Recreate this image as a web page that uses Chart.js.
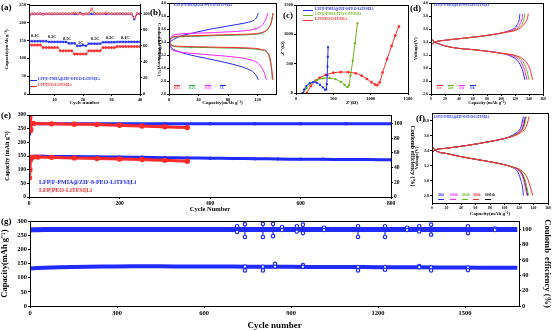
<!DOCTYPE html>
<html>
<head>
<meta charset="utf-8">
<script src="https://cdn.jsdelivr.net/npm/chart.js@4.4.0/dist/chart.umd.min.js"></script>
<style>
  body { margin: 0; width: 554px; height: 331px; background: #fff; position: relative; overflow: hidden; font-family: 'Liberation Serif', serif; }
  .c { position: absolute; }
  .t { position: absolute; white-space: nowrap; font-weight: bold; line-height: 1; }
  .ln { position: absolute; height: 1px; }
</style>
</head>
<body>
<div class="c" style="left:4px;top:0px;width:158px;height:106px"><canvas id="chA"></canvas></div>
<div class="c" style="left:157px;top:0px;width:123px;height:106px"><canvas id="chB"></canvas></div>
<div class="c" style="left:280px;top:0px;width:134px;height:106px"><canvas id="chC"></canvas></div>
<div class="c" style="left:413px;top:0px;width:141px;height:106px"><canvas id="chD"></canvas></div>
<div class="c" style="left:4px;top:108px;width:412px;height:105px"><canvas id="chE"></canvas></div>
<div class="c" style="left:414px;top:109px;width:140px;height:108px"><canvas id="chF"></canvas></div>
<div class="c" style="left:0px;top:216px;width:552px;height:115px"><canvas id="chG"></canvas></div>
<div id="labels"></div>
<script>
// ---- data ----

// (a) rate performance
const aCycles = [1,2,3,4,5,6,7,8,9,10,11,12,13,14,15,16,17,18,19,20,21,22,23,24,25,26,27,28,29,30,31,32,33,34,35,36,37,38,39,40];
const aBlueCap = [148,148,148,148,148,148,148, 146,146,146,146,146,146,146, 142,142,142, 135,135,137,135, 141,141,141,141,141, 145,145,145,145,145, 146,146,146,146,146,146,146,146,146];
const aRedCap = [137,137,137,137,137, 130,130,130,130,130,130, 121,121,121,121,121, 112,112,112,112,112, 121,121,121,121,121, 130,130,130,130,130, 133,133,133,133,133,133,133,133,133];
const aBlueCE = [97,99.5,99.5,99.5,99.5,99.5,99.5,99.5,99.5,99.5,99.5,99.5,99.5,99.5,99.5,99.5,99.5,99.5,101,99.5,99.5,99.5,99.5,99.5,99.5,99.5,99.5,99.5,99.5,99.5,99.5,99.5,99.5,99.5,99.5,99.5,99.5,93,99.5,99.5];
const aRedCE = [99,100,100,100,100, 99,100,100,100,100,100, 100,100,100,100,100, 101,100,100,99,100, 100,106,100,100,100, 100,101,100,100,100, 100,100,100,100,100,100,95,100,100];
const aRates = ['0.1C','0.2C','0.5C','1C','0.5C','0.2C','0.1C'];

// (b) charge / discharge at different rates  [capacity, voltage]
const bRates = ['0.1C','0.2C','0.5C','1C'];
const bRedChg = [[0,3.38],[3,3.46],[8,3.49],[30,3.5],[60,3.51],[90,3.52],[115,3.53],[128,3.56],[135,3.62],[139,3.72],[141,3.85]];
const bGreenChg = [[0,3.38],[3,3.46],[8,3.48],[30,3.49],[60,3.5],[90,3.51],[115,3.52],[128,3.55],[135,3.62],[139,3.73],[141,3.85]];
const bMagChg = [[0,3.38],[3,3.48],[10,3.52],[40,3.54],[80,3.56],[105,3.58],[118,3.61],[126,3.66],[131,3.75],[134,3.85]];
const bBlueChg = [[0,3.38],[3,3.42],[15,3.49],[35,3.55],[55,3.6],[75,3.64],[95,3.68],[108,3.71],[115,3.74],[119,3.79],[121,3.85]];
const bRedDis = [[0,3.42],[3,3.36],[10,3.34],[40,3.33],[80,3.32],[110,3.31],[125,3.29],[133,3.25],[137,3.15],[139,3.0],[141,2.82]];
const bGreenDis = [[0,3.42],[3,3.35],[10,3.33],[40,3.32],[80,3.31],[110,3.3],[125,3.28],[133,3.24],[137,3.12],[139,2.98],[140,2.82]];
const bMagDis = [[0,3.40],[3,3.3],[10,3.26],[30,3.23],[60,3.2],[90,3.17],[110,3.13],[120,3.08],[126,3.0],[130,2.9],[132,2.82]];
const bBlueDis = [[0,3.40],[3,3.32],[10,3.27],[30,3.2],[51,3.15],[75,3.09],[96,3.03],[108,2.98],[115,2.93],[119,2.87],[121,2.82]];

// (c) Nyquist plots [Z', -Z'']
const cBlue = [[90,0],[110,60],[140,120],[180,165],[230,185],[280,175],[320,140],[360,95],[390,55],[405,60],[412,150],[418,300],[422,450],[426,620],[430,780]];
const cGreen = [[100,0],[140,80],[200,160],[280,220],[360,250],[450,255],[530,235],[600,190],[650,140],[690,100],[710,130],[730,300],[760,550],[790,850],[823,1188]];
const cRed = [[145,0],[200,120],[260,210],[320,260],[400,310],[500,345],[600,357],[700,355],[800,335],[880,295],[950,240],[1010,185],[1060,145],[1090,135],[1120,180],[1160,350],[1220,580],[1280,800],[1330,980],[1377,1133]];

// (d) charge / discharge, 4 cycles
const dLabels = ['1st','2nd','3rd','5th'];
const dRedChg = [[0,3.36],[5,3.4],[20,3.43],[45,3.46],[70,3.49],[95,3.53],[110,3.56],[120,3.58],[130,3.64],[135,3.71],[138,3.78],[139,3.84]];
const dGreenChg = [[0,3.36],[5,3.4],[20,3.43],[45,3.46],[70,3.49],[95,3.53],[110,3.56],[118,3.58],[126,3.63],[131,3.7],[133,3.77],[134,3.84]];
const dMagChg = [[0,3.36],[5,3.4],[20,3.43],[45,3.46],[70,3.49],[95,3.53],[110,3.57],[115,3.58],[122,3.62],[127,3.68],[130,3.76],[131,3.84]];
const dBlueChg = [[0,3.36],[5,3.4],[20,3.43],[45,3.46],[70,3.49],[95,3.53],[110,3.57],[118,3.61],[123,3.67],[126,3.75],[127,3.84]];
const dRedDis = [[0,3.47],[3,3.42],[10,3.38],[30,3.32],[65,3.28],[100,3.23],[122,3.19],[134,3.12],[140,3.02],[143,2.92],[145,2.82]];
const dGreenDis = [[0,3.47],[3,3.42],[10,3.38],[30,3.32],[65,3.28],[100,3.23],[120,3.19],[130,3.12],[135,3.02],[138,2.92],[140,2.82]];
const dMagDis = [[0,3.47],[3,3.42],[10,3.38],[30,3.32],[65,3.28],[100,3.23],[118,3.18],[127,3.12],[132,3.02],[135,2.92],[137,2.82]];
const dBlueDis = [[0,3.47],[3,3.42],[10,3.38],[30,3.32],[65,3.28],[100,3.23],[115,3.18],[123,3.12],[129,3.02],[132,2.92],[134,2.82]];

// (e) long cycling, two cells [cycle, value]
const eBlueCap = [[1,133],[2,138],[3,143],[5,146],[8,148],[15,149],[30,149],[60,148],[100,148],[150,147],[200,146],[250,145],[300,144],[350,143],[400,142],[450,141],[500,140],[550,139],[600,138],[650,138],[700,137],[750,137],[800,136]];
const eBlueCE = [[1,85],[2,96],[3,99],[5,99.5],[50,99.6],[100,99.5],[200,99.5],[300,99.5],[400,99.5],[500,99.5],[600,99.5],[700,99.5],[800,99.5]];
const eRedCap = [[1,70],[2,100],[3,135],[4,142],[5,145],[10,146],[20,146],[50,145],[100,143],[150,141],[200,139],[250,137],[300,134],[350,131]];
const eRedCE = [[1,106],[2,109],[3,90],[4,92],[5,100],[10,100],[50,99.5],[100,99],[150,98.5],[200,97.5],[250,96.5],[300,95.5],[350,94.5]];

// (f) charge / discharge at long cycles
const fLabels = ['50th','100th','200th','300th','1000 th'];
const fBlueChg = [[0,3.38],[5,3.41],[20,3.43],[50,3.47],[80,3.52],[100,3.56],[110,3.6],[118,3.65],[123,3.72],[126,3.85]];
const fMagChg = [[0,3.38],[5,3.41],[20,3.43],[50,3.47],[80,3.52],[100,3.56],[110,3.59],[120,3.65],[125,3.72],[128,3.85]];
const fGreenChg = [[0,3.38],[5,3.41],[20,3.43],[50,3.47],[80,3.52],[100,3.56],[110,3.59],[122,3.65],[127,3.72],[130,3.85]];
const fRedChg = [[0,3.38],[5,3.41],[20,3.43],[50,3.47],[80,3.52],[100,3.56],[112,3.59],[124,3.65],[130,3.72],[134,3.85]];
const fBlackChg = [[0,3.38],[5,3.41],[20,3.43],[50,3.47],[80,3.52],[100,3.56],[110,3.59],[121,3.65],[126,3.72],[129,3.85]];
const fBlueDis = [[0,3.46],[5,3.4],[20,3.36],[50,3.3],[80,3.25],[100,3.21],[110,3.18],[118,3.12],[122,3.02],[125,2.9],[126,2.8]];
const fMagDis = [[0,3.46],[5,3.4],[20,3.36],[50,3.3],[80,3.25],[100,3.21],[110,3.18],[121,3.12],[126,3.02],[129,2.9],[131,2.8]];
const fGreenDis = [[0,3.46],[5,3.4],[20,3.36],[50,3.3],[80,3.25],[100,3.21],[110,3.18],[123,3.12],[128,3.02],[131,2.9],[133,2.8]];
const fRedDis = [[0,3.46],[5,3.4],[20,3.36],[50,3.3],[80,3.25],[100,3.21],[112,3.18],[125,3.12],[132,3.02],[136,2.9],[139,2.8]];
const fBlackDis = [[0,3.46],[5,3.4],[20,3.36],[50,3.3],[80,3.25],[100,3.21],[110,3.18],[122,3.12],[127,3.02],[130,2.9],[132,2.8]];

// (g) 1600+ cycles: main bands plus spikes [cycle, top, bottom]
const gCap = [[1,133],[50,135],[100,137],[200,139],[300,140],[400,140.5],[500,140],[600,140],[700,139.5],[800,139],[900,138.5],[1000,138],[1100,138],[1200,137.5],[1300,137],[1400,136.5],[1500,136],[1600,135.5],[1680,135]];
const gCapSpikes = [[741,139.5,126],[803,139,126],[845,149,139],[941,145,138.5],[1131,138,126],[1224,137.5,128],[1342,141,137],[1383,136.5,126],[1510,136,127]];
const gCE = [[1,99],[50,99.8],[200,99.8],[400,99.8],[600,99.8],[800,99.8],[1000,99.8],[1200,99.8],[1400,99.8],[1600,99.8],[1680,99.8]];
const gCESpikes = [[714,104,96.5],[741,106.5,90],[803,107,90],[838,107,91],[869,103,99],[920,104,97],[941,106,95],[1014,102,99],[1131,104,90],[1224,104,90],[1300,102,99],[1342,104,97],[1383,106,93],[1510,104,95],[1603,101,99]];

// ---- colours ----
const BLUE = '#1f2bff', RED = '#ff2a2a', GREEN = '#2ea84a', LGREEN = '#6cb21c', MAG = '#ff22ff', BLACK = '#000';

Chart.defaults.font.family = "'Liberation Serif', serif";
Chart.defaults.font.weight = 'bold';
Chart.defaults.color = '#000';
Chart.defaults.animation = false;
Chart.defaults.responsive = true;
Chart.defaults.maintainAspectRatio = false;
Chart.defaults.devicePixelRatio = 1;
Chart.defaults.plugins.legend.display = false;
Chart.defaults.plugins.tooltip.enabled = false;

const frame = {
  id: 'frame',
  afterDraw(c) {
    const a = c.chartArea, x = c.ctx;
    x.save(); x.strokeStyle = '#000'; x.lineWidth = 1;
    x.strokeRect(Math.round(a.left) + 0.5, Math.round(a.top) + 0.5, Math.round(a.width), Math.round(a.height));
    x.restore();
  }
};

const xy = pairs => pairs.map(p => ({x: p[0], y: p[1]}));
const zip = (xs, ys) => xs.map((v, i) => ({x: v, y: ys[i]}));
// each spike becomes a short vertical segment, separated by gaps
const spikes = list => list.flatMap(s => [{x: s[0], y: s[1]}, {x: s[0], y: s[2]}, {x: s[0], y: null}]);

function axis(o) {
  return {
    type: 'linear', position: o.pos, min: o.min, max: o.max,
    afterBuildTicks: s => { s.ticks = o.ticks.map(v => ({value: v})); },
    afterFit: s => { if (o.pos === 'bottom') s.height = o.size; else s.width = o.size; },
    grid: {drawOnChartArea: false, tickLength: 2, color: '#000'},
    border: {color: '#000'},
    ticks: {font: {size: o.fs || 5}, padding: 1, maxRotation: 0, autoSkip: false,
            callback: o.fmt || (v => v)},
    title: {display: !!o.title, text: o.title, font: {size: o.ts || 5.5}, padding: 0}
  };
}

function curve(pairs, color, w) {
  return {data: xy(pairs), borderColor: color, backgroundColor: color, borderWidth: w || 1,
          pointRadius: 0, showLine: true, cubicInterpolationMode: 'monotone'};
}

function make(id, datasets, scales, pad) {
  return new Chart(document.getElementById(id), {
    type: 'scatter',
    data: {datasets},
    options: {layout: {padding: pad}, scales},
    plugins: [frame]
  });
}

// (a)
make('chA', [
  {data: zip(aCycles, aRedCE), yAxisID: 'y2', borderColor: RED, backgroundColor: '#fff', showLine: true, borderWidth: 0.8, pointRadius: 1, pointStyle: 'circle'},
  {data: zip(aCycles, aBlueCE), yAxisID: 'y2', borderColor: BLUE, backgroundColor: BLUE, showLine: true, borderWidth: 0.8, pointRadius: 1.2, pointStyle: 'star'},
  {data: zip(aCycles, aRedCap), borderColor: RED, backgroundColor: RED, showLine: true, borderWidth: 0.8, pointRadius: 1.1, pointStyle: 'circle'},
  {data: zip(aCycles, aBlueCap), borderColor: BLUE, backgroundColor: BLUE, showLine: true, borderWidth: 0.8, pointRadius: 1.4, pointStyle: 'star'}
], {
  x: axis({pos: 'bottom', min: 1, max: 40, ticks: [10, 20, 30, 40], size: 12, title: 'Cycle number', fs: 4.5, ts: 5}),
  y: axis({pos: 'left', min: 0, max: 250, ticks: [0, 50, 100, 150, 200, 250], size: 25, title: 'Capacity(mAh g⁻¹)', fs: 4.5, ts: 5}),
  y2: axis({pos: 'right', min: 0, max: 111, ticks: [0, 20, 40, 60, 80, 100], size: 22, title: 'Coulombic efficiency(%)', fs: 4.5, ts: 5})
}, {top: 3, right: 0, left: 0, bottom: 0});

// (b)
make('chB', [
  curve(bRedChg, RED), curve(bGreenChg, GREEN), curve(bMagChg, MAG), curve(bBlueChg, BLUE),
  curve(bRedDis, RED), curve(bGreenDis, GREEN), curve(bMagDis, MAG), curve(bBlueDis, BLUE)
], {
  x: axis({pos: 'bottom', min: 0, max: 145, ticks: [0, 40, 80, 120], size: 12, title: 'Capacity(mAh g⁻¹)', fs: 4.5, ts: 5}),
  y: axis({pos: 'left', min: 2.6, max: 4.0, ticks: [2.6, 2.8, 3.0, 3.2, 3.4, 3.6, 3.8, 4.0], size: 12, title: 'Voltage(V)', fs: 4, ts: 5, fmt: v => v.toFixed(1)})
}, {top: 3, right: 4, left: 0, bottom: 0});

// (c)
make('chC', [
  {data: xy(cBlue), borderColor: BLUE, backgroundColor: BLUE, showLine: true, borderWidth: 1, pointRadius: 1, pointStyle: 'star', tension: 0.3},
  {data: xy(cGreen), borderColor: LGREEN, backgroundColor: LGREEN, showLine: true, borderWidth: 1, pointRadius: 1, pointStyle: 'triangle', tension: 0.3},
  {data: xy(cRed), borderColor: RED, backgroundColor: RED, showLine: true, borderWidth: 1, pointRadius: 1, pointStyle: 'circle', tension: 0.3}
], {
  x: axis({pos: 'bottom', min: 0, max: 1500, ticks: [0, 500, 1000, 1500], size: 13, title: "Z'(Ω)", fs: 4.5, ts: 5}),
  y: axis({pos: 'left', min: 0, max: 1500, ticks: [0, 500, 1000, 1500], size: 16, title: "-Z''(Ω)", fs: 4.5, ts: 5})
}, {top: 3, right: 6, left: 0, bottom: 0});

// (d)
make('chD', [
  curve(dRedChg, RED), curve(dGreenChg, LGREEN), curve(dMagChg, MAG), curve(dBlueChg, BLUE),
  curve(dRedDis, RED), curve(dGreenDis, LGREEN), curve(dMagDis, MAG), curve(dBlueDis, BLUE)
], {
  x: axis({pos: 'bottom', min: 0, max: 160, ticks: [0, 20, 40, 60, 80, 100, 120, 140, 160], size: 12, title: 'Capacity (mAh g⁻¹)', fs: 3.8, ts: 4.5}),
  y: axis({pos: 'left', min: 2.6, max: 4.0, ticks: [2.6, 2.8, 3.0, 3.2, 3.4, 3.6, 3.8, 4.0], size: 18, title: 'Voltage(V)', fs: 4, ts: 5, fmt: v => v.toFixed(1)})
}, {top: 3, right: 11, left: 0, bottom: 0});

// (e)
make('chE', [
  {data: xy(eRedCE), yAxisID: 'y2', borderColor: RED, backgroundColor: RED, showLine: true, borderWidth: 3, pointRadius: 1.2, tension: 0.2},
  {data: xy(eRedCap), borderColor: RED, backgroundColor: RED, showLine: true, borderWidth: 3, pointRadius: 1.2, tension: 0.2},
  {data: xy(eBlueCE), yAxisID: 'y2', borderColor: BLUE, backgroundColor: BLUE, showLine: true, borderWidth: 3, pointRadius: 1, pointStyle: 'star', tension: 0.2},
  {data: xy(eBlueCap), borderColor: BLUE, backgroundColor: BLUE, showLine: true, borderWidth: 3, pointRadius: 1, pointStyle: 'star', tension: 0.2}
], {
  x: axis({pos: 'bottom', min: 0, max: 800, ticks: [0, 200, 400, 600, 800], size: 16, title: 'Cycle Number', fs: 5.5, ts: 6.5}),
  y: axis({pos: 'left', min: 0, max: 300, ticks: [0, 50, 100, 150, 200, 250, 300], size: 25, title: 'Capacity (mAh g⁻¹)', fs: 5.5, ts: 6}),
  y2: axis({pos: 'right', min: 0, max: 111.5, ticks: [0, 20, 40, 60, 80, 100], size: 25, title: 'Coulomb efficiency (%)', fs: 5.5, ts: 6})
}, {top: 4, right: 0, left: 0, bottom: 0});

// (f)
make('chF', [
  curve(fRedChg, RED), curve(fGreenChg, LGREEN), curve(fMagChg, MAG), curve(fBlackChg, BLACK), curve(fBlueChg, BLUE),
  curve(fRedDis, RED), curve(fGreenDis, LGREEN), curve(fMagDis, MAG), curve(fBlackDis, BLACK), curve(fBlueDis, BLUE)
], {
  x: axis({pos: 'bottom', min: 0, max: 160, ticks: [0, 20, 40, 60, 80, 100, 120, 140, 160], size: 14, title: 'Capacity(mAh g⁻¹)', fs: 3.8, ts: 5}),
  y: axis({pos: 'left', min: 2.7, max: 3.9, ticks: [2.8, 3.0, 3.2, 3.4, 3.6, 3.8], size: 18, title: 'Voltage(V)', fs: 4, ts: 5, fmt: v => v.toFixed(1)})
}, {top: 4, right: 6, left: 0, bottom: 0});

// (g)
make('chG', [
  {data: spikes(gCESpikes), yAxisID: 'y2', borderColor: BLUE, backgroundColor: '#fff', showLine: true, spanGaps: false, borderWidth: 1.2, pointRadius: 1.7, pointBorderWidth: 1.2},
  {data: spikes(gCapSpikes), borderColor: BLUE, backgroundColor: '#fff', showLine: true, spanGaps: false, borderWidth: 1.2, pointRadius: 1.7, pointBorderWidth: 1.2},
  {data: xy(gCE), yAxisID: 'y2', borderColor: BLUE, backgroundColor: BLUE, showLine: true, borderWidth: 5, pointRadius: 0, tension: 0.2},
  {data: xy(gCap), borderColor: BLUE, backgroundColor: BLUE, showLine: true, borderWidth: 4, pointRadius: 0, tension: 0.2}
], {
  x: axis({pos: 'bottom', min: 0, max: 1686, ticks: [0, 300, 600, 900, 1200, 1500], size: 25, title: 'Cycle number', fs: 6.5, ts: 9}),
  y: axis({pos: 'left', min: 0, max: 300, ticks: [0, 50, 100, 150, 200, 250, 300], size: 30, title: 'Capacity(mAh g⁻¹)', fs: 6.5, ts: 8.5}),
  y2: axis({pos: 'right', min: 0, max: 110.5, ticks: [0, 20, 40, 60, 80, 100], size: 33, title: 'Coulomb  efficiency (%)', fs: 6.5, ts: 8.5})
}, {top: 5, right: 0, left: 0, bottom: 0});

// ---- text labels and legends ----
const box = document.getElementById('labels');
function txt(x, y, s, size, color) {
  const d = document.createElement('div');
  d.className = 't';
  d.style.left = x + 'px'; d.style.top = y + 'px';
  d.style.fontSize = size + 'px'; d.style.color = color || '#000';
  d.textContent = s;
  box.appendChild(d);
}
function seg(x, y, w, color) {
  const d = document.createElement('div');
  d.className = 'ln';
  d.style.left = x + 'px'; d.style.top = y + 'px'; d.style.width = w + 'px';
  d.style.background = color;
  box.appendChild(d);
}

// panel letters
txt(1, 3, '(a)', 9); txt(150, 8, '(b)', 9); txt(283, 11, '(c)', 9); txt(410, 4, '(d)', 9);
txt(1, 111, '(e)', 9); txt(416, 114, '(f)', 9); txt(1, 217, '(g)', 9);

// (a) rate labels and legend
const aRateX = [31, 48, 63, 78, 91, 106, 121], aRateY = [34, 35, 37, 41, 37, 36, 36];
aRates.forEach((r, i) => txt(aRateX[i], aRateY[i], r, 4.3));
seg(30, 80, 7, BLUE); txt(38, 78, 'LFP|F-PMIA@ZIF-8-PEO-LiTFSI|Li', 3.8, BLUE);
seg(30, 86, 7, RED); txt(38, 84, 'LFP|PEO-LiTFSI|Li', 3.8, RED);

// (b) title and legend
txt(174, 4, 'LFP|F-PMIA@ZIF-8-PEO-LiTFSI|Li', 3.6, BLUE);
const bCols = [RED, GREEN, MAG, BLUE], bX = [174, 189, 205, 220];
bRates.forEach((r, i) => { seg(bX[i], 85, 6, bCols[i]); txt(bX[i], 87, r, 3.5, bCols[i]); });

// (c) legend
const cCols = [BLUE, LGREEN, RED], cNames = ['LFP|F-PMIA@ZIF-8-PEO-LiTFSI|Li', 'LFP|F-PMIA-PEO-LiTFSI|Li', 'LFP|PEO-LiTFSI|Li'];
cNames.forEach((n, i) => { seg(303, 10 + i * 5, 10, cCols[i]); txt(315, 8 + i * 5, n, 3.6, cCols[i]); });

// (d) title and legend
txt(434, 4, 'LFP|F-PMIA@ZIF-8-PEO-LiTFSI|Li', 3.4, BLUE);
const dCols = [RED, LGREEN, MAG, BLUE], dX = [437, 448, 459, 470];
dLabels.forEach((r, i) => { seg(dX[i], 85, 6, dCols[i]); txt(dX[i], 87, r, 3.2, dCols[i]); });

// (e) legend
txt(39, 179, 'LFP|F-PMIA@ZIF-8-PEO-LiTFSI|Li', 6, BLUE);
txt(39, 187, 'LFP|PEO-LiTFSI|Li', 6, RED);

// (f) title and legend
txt(434, 116, 'LFP|F-PMIA@ZIF-8-PEO-LiTFSI|Li', 3.4, BLUE);
const fCols = [BLUE, MAG, LGREEN, RED, BLACK], fX = [438, 450, 462, 473, 485];
fLabels.forEach((r, i) => { txt(fX[i], 194, r, 3.2, fCols[i]); seg(fX[i], 199, 6, fCols[i]); });
</script>
</body>
</html>
